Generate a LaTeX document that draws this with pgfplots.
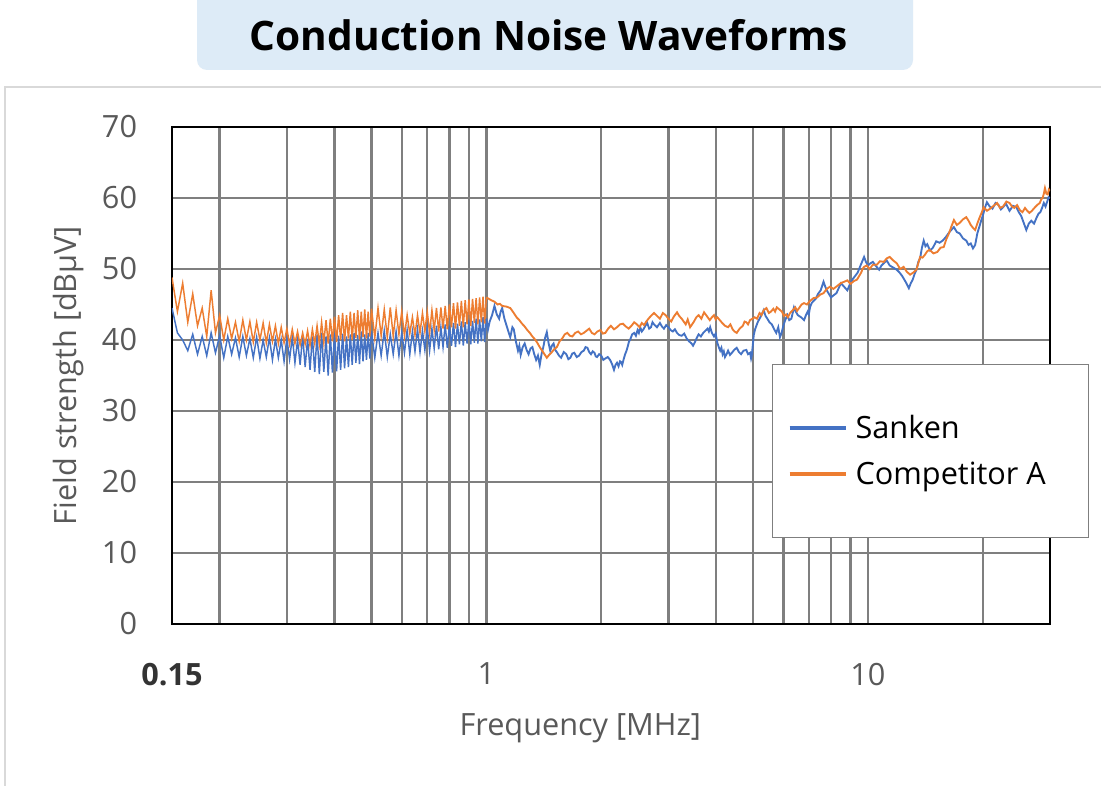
\documentclass[border=0pt]{standalone}
\usepackage{pgfplots}
\pgfplotsset{compat=1.18}
\usepackage{pgfplotstable}
\usepackage{fontspec}
\setmainfont{Open Sans}
\definecolor{sblue}{HTML}{4472C4}
\definecolor{corange}{HTML}{ED7D31}
\definecolor{gridgray}{HTML}{7F7F7F}
\definecolor{labgray}{HTML}{595959}
\definecolor{titlebg}{HTML}{DDEBF7}
\definecolor{framegray}{HTML}{D9D9D9}

\pgfplotstableread{
f s c
0.150 44.5 48.8
0.155 41.0 44.0
0.160 40.0 48.0
0.165 38.5 42.5
0.170 40.8 46.5
0.175 38.0 42.0
0.180 40.5 44.5
0.185 37.8 40.5
0.190 41.0 47.0
0.195 38.2 41.0
0.200 40.6 43.5
0.205 37.5 40.0
0.210 40.5 43.0
0.215 38.0 40.2
0.220 40.3 42.5
0.225 37.6 39.8
0.230 40.5 42.8
0.235 37.8 40.0
0.240 40.2 42.6
0.245 37.5 39.7
0.250 40.4 42.5
0.255 37.4 40.0
0.260 40.0 42.4
0.265 37.6 39.6
0.270 40.3 42.2
0.275 37.2 39.8
0.280 40.1 42.0
0.285 37.5 39.5
0.290 40.0 41.8
0.295 37.0 39.6
0.300 40.2 41.6
0.305 37.3 39.4
0.310 40.4 41.5
0.315 36.8 39.5
0.320 40.0 41.2
0.325 36.5 39.3
0.330 40.6 41.0
0.335 36.2 39.4
0.340 40.2 41.3
0.345 35.8 39.2
0.350 40.5 41.5
0.355 35.5 39.5
0.360 40.8 42.0
0.365 35.2 39.4
0.370 41.0 42.5
0.375 35.5 39.6
0.380 40.5 42.8
0.385 35.0 39.5
0.390 40.8 43.0
0.395 35.4 39.8
0.400 41.0 43.3
0.405 35.6 39.7
0.410 40.6 43.5
0.415 35.8 40.0
0.420 40.9 43.8
0.425 36.0 39.8
0.430 40.5 43.5
0.435 36.2 40.2
0.440 40.8 44.0
0.445 36.5 40.0
0.450 41.0 43.8
0.455 36.8 40.3
0.460 40.7 44.2
0.465 36.6 40.1
0.470 41.2 44.0
0.475 37.0 40.4
0.480 40.8 44.3
0.485 37.2 40.2
0.490 41.0 44.0
0.495 37.4 40.5
0.500 41.2 44.4
0.51 37.5 40.3
0.52 41.0 44.5
0.53 37.8 40.6
0.54 41.3 44.3
0.55 37.6 40.4
0.56 40.8 44.6
0.57 38.0 40.5
0.58 41.2 44.2
0.59 37.8 40.8
0.60 41.0 44.0
0.61 38.2 40.6
0.62 41.4 43.5
0.63 38.0 40.9
0.64 41.2 43.2
0.65 38.4 40.7
0.66 41.5 43.5
0.67 38.3 41.0
0.68 41.3 43.8
0.69 38.6 41.2
0.70 41.8 44.0
0.71 38.5 41.0
0.72 41.6 44.2
0.73 38.8 41.4
0.74 42.0 44.5
0.75 38.7 41.2
0.76 41.8 44.6
0.77 39.0 41.6
0.78 42.2 44.8
0.79 38.9 41.5
0.80 42.0 45.0
0.81 39.2 41.8
0.82 42.4 45.2
0.83 39.0 41.6
0.84 42.3 45.3
0.85 39.4 42.0
0.86 42.6 45.5
0.87 39.2 41.8
0.88 42.5 45.6
0.89 39.5 42.2
0.90 42.8 45.7
0.91 39.4 42.0
0.92 42.7 45.8
0.93 39.6 42.4
0.94 43.0 45.9
0.95 39.5 42.2
0.96 42.9 46.0
0.97 39.8 42.5
0.98 43.2 46.1
0.99 39.7 42.3
1.00 43.0 46.0
}\low

\pgfplotstableread{
f v
1.00 43.0
1.01 41.5
1.02 42.6
1.035 43.5
1.05 44.8
1.065 43.6
1.08 43.0
1.09 44.0
1.10 44.5
1.115 43.0
1.13 42.0
1.145 41.0
1.155 40.4
1.17 41.8
1.18 41.5
1.195 39.8
1.21 38.5
1.22 39.2
1.23 37.9
1.245 39.0
1.26 39.5
1.275 38.6
1.29 38.0
1.305 38.8
1.32 39.0
1.335 38.0
1.35 37.2
1.365 37.8
1.38 36.5
1.395 38.0
1.41 39.0
1.425 40.3
1.44 41.1
1.455 39.6
1.47 38.5
1.485 39.2
1.50 39.5
1.515 38.6
1.53 38.3
1.55 37.8
1.57 37.5
1.595 38.3
1.62 38.0
1.64 37.3
1.66 37.5
1.68 38.1
1.70 38.2
1.725 37.6
1.75 37.8
1.775 38.3
1.80 38.5
1.82 39.0
1.84 38.9
1.86 38.3
1.88 38.0
1.90 38.4
1.92 38.2
1.935 37.7
1.95 37.6
1.975 38.0
2.00 37.8
2.025 37.2
2.05 37.4
2.08 37.6
2.11 37.2
2.135 36.6
2.16 35.8
2.18 36.5
2.20 36.8
2.22 36.3
2.24 37.0
2.255 36.9
2.27 36.5
2.29 37.3
2.31 38.0
2.33 38.5
2.35 39.2
2.365 39.8
2.38 40.0
2.41 40.8
2.44 41.0
2.465 40.6
2.49 41.4
2.51 41.0
2.53 41.8
2.555 41.2
2.58 41.5
2.61 42.0
2.64 42.4
2.67 41.6
2.70 41.8
2.725 42.5
2.75 42.2
2.80 41.8
2.85 42.4
2.885 41.9
2.92 41.6
2.96 42.1
3.00 41.8
3.04 41.4
3.08 41.2
3.12 41.5
3.16 41.0
3.20 40.7
3.25 40.6
3.30 40.9
3.35 40.2
3.40 39.8
3.45 39.5
3.48 39.2
3.52 39.7
3.56 40.3
3.60 40.8
3.65 40.5
3.70 41.0
3.75 41.3
3.80 41.6
3.83 41.2
3.86 41.8
3.90 41.0
3.95 40.5
3.99 40.9
4.03 39.6
4.065 39.0
4.10 38.5
4.13 38.9
4.16 38.0
4.19 38.4
4.22 37.6
4.26 38.0
4.30 38.5
4.35 37.9
4.40 38.2
4.46 38.6
4.53 38.9
4.59 38.3
4.65 38.0
4.72 38.5
4.80 38.6
4.85 38.0
4.91 38.2
4.94 37.4
4.96 37.8
4.99 39.2
5.02 40.7
5.06 41.5
5.10 42.0
5.15 42.6
5.20 43.0
5.27 43.6
5.33 44.2
5.39 43.4
5.45 43.0
5.52 42.5
5.60 42.2
5.68 41.5
5.75 41.0
5.82 41.8
5.88 40.4
5.94 41.0
6.00 42.0
6.07 42.8
6.15 43.5
6.22 42.8
6.30 43.0
6.35 43.8
6.40 44.6
6.47 44.0
6.55 43.5
6.68 43.2
6.80 42.8
6.88 43.5
6.95 44.0
7.00 43.6
7.05 44.6
7.12 45.2
7.20 45.5
7.30 45.8
7.40 46.5
7.52 47.0
7.65 48.2
7.72 47.6
7.80 47.0
7.90 46.5
8.00 46.0
8.13 46.3
8.27 46.6
8.38 47.3
8.50 48.0
8.66 47.5
8.83 47.0
8.96 47.8
9.10 48.5
9.25 49.0
9.40 49.5
9.58 50.6
9.77 51.7
9.88 51.0
10.0 50.5
10.15 50.8
10.3 51.0
10.5 50.4
10.7 49.9
10.85 50.5
11.0 50.8
11.2 51.2
11.4 50.5
11.65 50.2
11.9 49.9
12.1 49.5
12.3 49.0
12.55 48.2
12.8 47.3
12.95 48.0
13.1 48.5
13.25 49.3
13.4 49.9
13.55 51.0
13.7 51.5
13.85 53.0
14.0 54.0
14.15 53.2
14.3 53.5
14.55 52.6
14.8 53.0
15.1 53.9
15.4 53.7
15.7 54.0
16.0 54.5
16.4 55.3
16.8 55.9
17.1 55.2
17.4 55.0
17.75 54.3
18.1 54.0
18.35 53.4
18.6 53.6
18.85 52.9
19.1 53.4
19.35 55.0
19.6 56.0
19.8 56.8
20.0 57.5
20.25 58.6
20.5 59.4
20.85 58.8
21.2 58.5
21.6 59.3
22.0 59.0
22.3 58.4
22.6 58.7
23.0 59.2
23.5 58.2
24.0 58.9
24.5 58.7
24.85 58.0
25.2 57.5
25.6 56.5
26.0 55.5
26.4 56.4
26.8 56.8
27.25 56.4
27.7 57.3
28.0 57.8
28.3 58.0
28.6 58.6
28.9 59.3
29.2 58.8
29.5 59.5
29.75 60.1
30.0 60.0
}\shigh

\pgfplotstableread{
f v
1.00 46.0
1.015 45.8
1.03 45.6
1.05 45.4
1.07 45.0
1.085 45.1
1.10 44.8
1.13 44.7
1.155 44.5
1.18 43.8
1.20 43.2
1.22 42.8
1.24 42.3
1.26 41.9
1.28 41.4
1.30 41.0
1.32 40.5
1.34 40.1
1.36 39.6
1.38 39.0
1.40 38.5
1.42 38.0
1.44 37.5
1.46 37.9
1.48 38.2
1.505 38.7
1.53 39.0
1.555 39.8
1.58 40.2
1.605 40.8
1.63 41.0
1.655 40.6
1.68 40.5
1.71 41.0
1.74 41.2
1.77 40.8
1.80 41.0
1.83 41.3
1.86 41.6
1.89 41.0
1.92 40.8
1.955 41.2
1.99 41.4
2.02 40.9
2.05 41.0
2.085 41.6
2.12 42.0
2.16 41.5
2.20 41.8
2.24 42.2
2.28 42.3
2.32 41.9
2.36 41.6
2.40 42.0
2.44 42.5
2.48 42.2
2.52 41.8
2.555 42.4
2.59 42.1
2.625 42.6
2.66 43.0
2.70 43.4
2.75 43.8
2.80 43.4
2.85 43.0
2.90 43.8
2.95 43.5
3.00 43.0
3.05 42.6
3.10 43.3
3.16 43.9
3.20 43.4
3.25 43.0
3.29 42.6
3.33 42.2
3.37 42.9
3.42 41.8
3.46 42.2
3.50 42.6
3.55 43.2
3.60 43.5
3.66 43.0
3.72 43.9
3.78 43.4
3.85 42.8
3.90 43.2
3.95 43.5
3.99 42.9
4.03 43.2
4.09 42.8
4.15 42.4
4.22 42.0
4.30 41.8
4.36 42.2
4.42 41.5
4.47 41.2
4.53 41.0
4.61 41.6
4.70 42.0
4.75 42.6
4.80 42.5
4.85 42.2
4.91 42.8
4.98 43.0
5.05 43.2
5.12 43.0
5.20 43.8
5.26 43.5
5.33 44.2
5.42 44.5
5.50 43.8
5.57 44.0
5.65 44.4
5.71 44.0
5.77 44.6
5.86 44.3
5.95 44.0
6.02 43.4
6.10 43.6
6.17 43.2
6.25 43.8
6.35 44.2
6.45 44.6
6.52 44.1
6.60 44.5
6.70 45.0
6.80 45.2
6.92 45.0
7.05 45.5
7.20 45.9
7.36 46.0
7.50 46.4
7.65 46.6
7.80 47.2
7.95 47.5
8.12 47.2
8.30 47.6
8.48 48.0
8.66 48.2
8.83 48.4
9.00 47.9
9.18 48.3
9.36 48.5
9.48 49.0
9.60 49.5
9.68 50.0
9.77 50.3
9.93 50.5
10.1 50.0
10.3 50.6
10.55 50.6
10.75 51.1
11.0 51.0
11.2 51.5
11.4 51.7
11.65 51.2
11.9 50.8
12.15 50.0
12.4 50.3
12.65 49.6
12.9 49.2
13.15 49.5
13.4 49.9
13.55 50.8
13.7 51.7
13.9 51.6
14.1 52.0
14.3 52.5
14.5 52.7
14.85 52.2
15.2 52.4
15.5 53.0
15.8 53.1
16.05 54.2
16.3 55.0
16.55 56.0
16.8 56.9
17.1 56.2
17.4 56.5
17.75 57.0
18.1 57.3
18.35 56.8
18.6 56.2
18.85 55.8
19.1 55.5
19.35 56.4
19.6 57.2
19.85 57.9
20.1 58.7
20.5 58.2
20.9 58.5
21.35 58.9
21.8 59.3
22.2 58.6
22.6 58.8
23.05 59.5
23.5 59.3
23.85 58.8
24.2 58.6
24.6 59.0
25.0 58.3
25.4 58.0
25.8 58.6
26.15 58.2
26.5 57.9
26.9 58.2
27.3 58.6
27.75 59.0
28.2 59.3
28.45 59.8
28.7 60.0
28.9 60.6
29.1 61.4
29.35 60.6
29.6 60.5
29.8 61.2
30.0 61.0
}\chigh

\begin{document}
\begin{tikzpicture}
\useasboundingbox (0,0) rectangle (825.75pt,589.5pt);
\fill[white] (0,0) rectangle (825.75pt,589.5pt);
\draw[framegray, line width=2pt] (3.75pt,-5pt) -- (3.75pt,524.25pt) -- (830pt,524.25pt);
\fill[titlebg, rounded corners=7.5pt] (147.75pt,537pt) rectangle (684.75pt,600pt);
\node at (411.75pt,563.25pt) {\resizebox{448.5pt}{!}{\bfseries Conduction Noise Waveforms}};
\begin{axis}[
  at={(129pt,121.5pt)}, anchor=south west,
  scale only axis, width=658.5pt, height=372.75pt,
  xmode=log, xmin=0.15, xmax=30, ymin=0, ymax=70,
  xtick={0.15,1,10},
  xticklabels={{\color{black!80}\bfseries 0.15},1,10},
  minor xtick={0.2,0.3,0.4,0.5,0.6,0.7,0.8,0.9,2,3,4,5,6,7,8,9,20},
  ytick={0,10,20,30,40,50,60,70},
  grid=both,
  major grid style={gridgray, line width=1.8pt},
  minor grid style={gridgray, line width=1.8pt},
  major tick length=0pt, minor tick length=0pt,
  axis line style={black, line width=1.6pt},
  tick label style={font=\fontsize{23}{27}\selectfont, text=labgray},
  yticklabel style={anchor=east, inner sep=0pt, xshift=-26pt},
  xticklabel style={anchor=north, inner sep=0pt, yshift=-29pt},
  /pgf/number format/assume math mode=true,
  xlabel={Frequency [MHz]},
  ylabel={Field strength [dBµV]},
  label style={font=\fontsize{23}{27}\selectfont, text=labgray},
  xlabel style={at={(axis description cs:0.465,-0.209)}, anchor=center},
  ylabel style={at={(axis description cs:-0.118,0.5)}, anchor=center},
  legend cell align=left,
  legend style={at={(axis description cs:0.6834,0.523)}, anchor=north west,
    draw=gridgray, line width=0.8pt, fill=white,
    inner xsep=11.25pt, inner ysep=37pt, row sep=13.5pt, column sep=6pt,
    font=\fontsize{23}{27}\selectfont,
    nodes={inner sep=0pt, text height=18.5pt, text depth=2.5pt}},
  legend image code/.code={\draw[#1, line width=3pt] (0pt,0pt) -- (42pt,0pt);},
]
\addplot[sblue, line width=1.1pt] table[x=f,y=s]{\low};
\addlegendentry{Sanken}
\addplot[corange, line width=1.1pt] table[x=f,y=c]{\low};
\addlegendentry{Competitor A\rule{21pt}{0pt}}
\addplot[sblue, line width=1.4pt, forget plot] table[x=f,y=v]{\shigh};
\addplot[corange, line width=1.4pt, forget plot] table[x=f,y=v]{\chigh};
\end{axis}
\end{tikzpicture}
\end{document}
